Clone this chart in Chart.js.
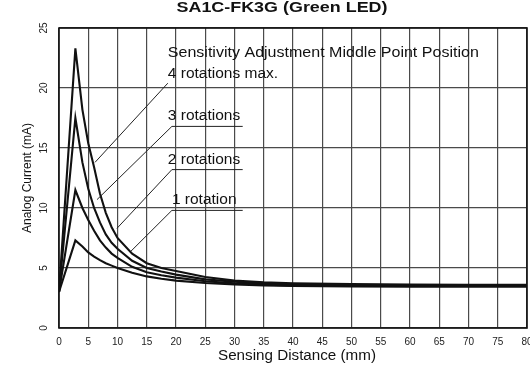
<!DOCTYPE html>
<html>
<head>
<meta charset="utf-8">
<script src="https://cdn.jsdelivr.net/npm/chart.js@4"></script>
<style>
  html, body { margin: 0; padding: 0; background: #fff; }
  #wrap { width: 530px; height: 371px; }
</style>
</head>
<body>
<div id="wrap"><canvas id="c" width="530" height="371"></canvas></div>
<script>
// Sensing distance (mm) at which each current reading is taken
const distances = [0, 2.8, 4, 5, 6, 7, 8, 9, 10, 12.5, 15, 17.5, 20, 25, 30, 35, 40, 50, 60, 70, 80];

// Analog current (mA) for each sensitivity adjustment position
const rot4 = [3.0, 23.3, 18.2, 15.4, 13.4, 11.2, 9.6, 8.4, 7.5, 6.2, 5.4, 5.0, 4.75, 4.25, 3.95, 3.8, 3.72, 3.66, 3.62, 3.6, 3.6];
const rot3 = [3.0, 17.5, 13.8, 11.6, 10.0, 8.8, 7.8, 7.1, 6.6, 5.6, 5.0, 4.7, 4.45, 4.05, 3.85, 3.7, 3.63, 3.58, 3.55, 3.55, 3.55];
const rot2 = [3.0, 11.5, 10.0, 9.0, 8.1, 7.3, 6.7, 6.2, 5.85, 5.1, 4.65, 4.4, 4.2, 3.9, 3.72, 3.6, 3.55, 3.52, 3.5, 3.5, 3.5];
const rot1 = [3.0, 7.3, 6.8, 6.3, 5.95, 5.65, 5.4, 5.2, 5.0, 4.6, 4.3, 4.1, 3.95, 3.75, 3.62, 3.54, 3.5, 3.47, 3.45, 3.45, 3.45];

const seriesNames = ['4 rotations max.', '3 rotations', '2 rotations', '1 rotation'];
const seriesValues = [rot4, rot3, rot2, rot1];

const xTicks = [0, 5, 10, 15, 20, 25, 30, 35, 40, 45, 50, 55, 60, 65, 70, 75, 80];
const yTicks = [0, 5, 10, 15, 20, 25];

const chartTitle = 'SA1C-FK3G (Green LED)';
const xTitle = 'Sensing Distance (mm)';
const yTitle = 'Analog Current (mA)';
const noteTitle = 'Sensitivity Adjustment Middle Point Position';

// Callout labels: text anchor, underline end and leader end, in data units
const callouts = [
  { text: '4 rotations max.', at: [18.6, 21.2], from: [18.6, 20.4], under: null,  to: [6.15, 13.8] },
  { text: '3 rotations',      at: [18.6, 17.7], from: [19.3, 16.8], under: 31.4,  to: [6.5, 10.7] },
  { text: '2 rotations',      at: [18.6, 14.0], from: [19.3, 13.2], under: 31.4,  to: [9.9, 8.3] },
  { text: '1 rotation',       at: [19.3, 10.7], from: [19.3, 9.8],  under: 31.4,  to: [12.3, 6.4] }
];

const FONT = '"Liberation Sans", Arial, Helvetica, sans-serif';

const datasets = seriesValues.map((vals, k) => ({
  label: seriesNames[k],
  data: distances.map((d, i) => ({ x: d, y: vals[i] })),
  borderColor: '#111',
  borderWidth: 2.1,
  pointRadius: 0,
  tension: 0,
  fill: false
}));

// Draw text squeezed or stretched horizontally to a given width
function fitText(ctx, text, cx, cy, width, align) {
  const w = ctx.measureText(text).width;
  ctx.save();
  ctx.translate(cx, cy);
  ctx.scale(width / w, 1);
  ctx.textAlign = align;
  ctx.fillText(text, 0, 0);
  ctx.restore();
}

const textPlugin = {
  id: 'textPlugin',
  afterDraw(chart) {
    const ctx = chart.ctx;
    const xs = chart.scales.x, ys = chart.scales.y;
    const ca = chart.chartArea;
    ctx.save();
    ctx.fillStyle = '#111';
    ctx.textBaseline = 'middle';

    // Title
    ctx.font = 'bold 14px ' + FONT;
    fitText(ctx, chartTitle, 282, 8, 211, 'center');

    // X tick labels
    ctx.textAlign = 'center';
    ctx.font = '10px ' + FONT;
    ctx.fillStyle = '#222';
    xTicks.forEach(v => {
      ctx.fillText(String(v), xs.getPixelForValue(v), ca.bottom + 14);
    });

    // Y tick labels (rotated)
    yTicks.forEach(v => {
      ctx.save();
      ctx.translate(ca.left - 15, ys.getPixelForValue(v));
      ctx.rotate(-Math.PI / 2);
      ctx.fillText(String(v), 0, 0);
      ctx.restore();
    });

    // Axis titles
    ctx.fillStyle = '#111';
    ctx.font = '14px ' + FONT;
    fitText(ctx, xTitle, 297, ca.bottom + 28, 158, 'center');

    ctx.font = '12px ' + FONT;
    ctx.save();
    ctx.translate(28, 178);
    ctx.rotate(-Math.PI / 2);
    ctx.textAlign = 'center';
    ctx.fillText(yTitle, 0, 0);
    ctx.restore();

    // Callout heading
    ctx.font = '14.5px ' + FONT;
    fitText(ctx, noteTitle, xs.getPixelForValue(18.6), ys.getPixelForValue(22.9), 311, 'left');

    // Callouts with leader lines
    ctx.font = '15.5px ' + FONT;
    ctx.textAlign = 'left';
    ctx.strokeStyle = '#222';
    ctx.lineWidth = 1;
    callouts.forEach(c => {
      ctx.fillText(c.text, xs.getPixelForValue(c.at[0]), ys.getPixelForValue(c.at[1]));
      ctx.beginPath();
      if (c.under !== null) {
        ctx.moveTo(xs.getPixelForValue(c.under), ys.getPixelForValue(c.from[1]));
        ctx.lineTo(xs.getPixelForValue(c.from[0]), ys.getPixelForValue(c.from[1]));
      } else {
        ctx.moveTo(xs.getPixelForValue(c.from[0]), ys.getPixelForValue(c.from[1]));
      }
      ctx.lineTo(xs.getPixelForValue(c.to[0]), ys.getPixelForValue(c.to[1]));
      ctx.stroke();
    });

    // Plot frame
    ctx.strokeStyle = '#111';
    ctx.lineWidth = 1.6;
    ctx.strokeRect(ca.left, ca.top, ca.right - ca.left, ca.bottom - ca.top);
    ctx.restore();
  }
};

new Chart(document.getElementById('c'), {
  type: 'line',
  data: { datasets },
  options: {
    responsive: false,
    animation: false,
    devicePixelRatio: 1,
    layout: { padding: { top: 28, right: 3, left: 0, bottom: 0 } },
    plugins: { legend: { display: false }, tooltip: { enabled: false }, title: { display: false } },
    scales: {
      x: {
        type: 'linear', min: 0, max: 80,
        ticks: { display: false, stepSize: 5 },
        grid: { color: '#4a4a4a', lineWidth: 1.2, drawTicks: false },
        border: { display: false },
        afterFit(s) { s.height = 43; s.paddingLeft = 0; s.paddingRight = 0; }
      },
      y: {
        type: 'linear', min: 0, max: 25,
        ticks: { display: false, stepSize: 5 },
        grid: { color: '#4a4a4a', lineWidth: 1.2, drawTicks: false },
        border: { display: false },
        afterFit(s) { s.width = 59; s.paddingTop = 0; s.paddingBottom = 0; }
      }
    }
  },
  plugins: [textPlugin]
});
</script>
</body>
</html>
